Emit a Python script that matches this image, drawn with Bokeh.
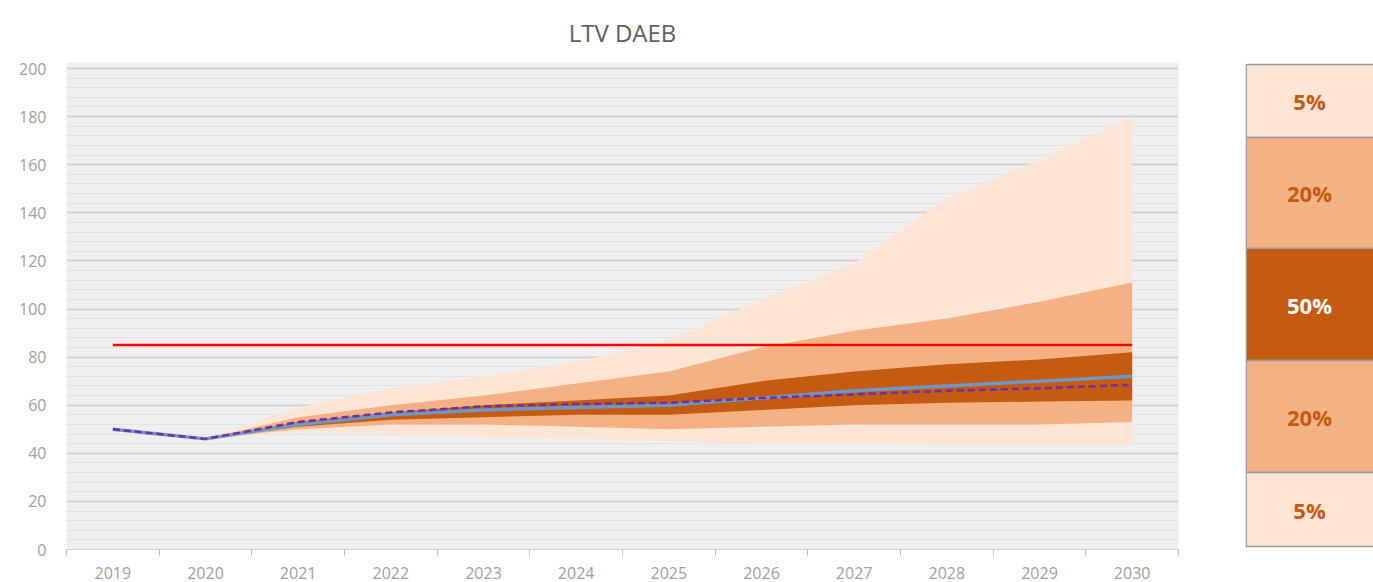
from bokeh.plotting import figure
from bokeh.layouts import row
from bokeh.models import Range1d, FixedTicker, SingleIntervalTicker, ColumnDataSource
from bokeh.embed import file_html
from bokeh.resources import INLINE
from bokeh.core.properties import value

# ---------------- data ----------------
years = [2019, 2020, 2021, 2022, 2023, 2024, 2025, 2026, 2027, 2028, 2029, 2030]
central = [50, 46, 52, 56, 58, 59, 60, 63, 66, 68, 70, 72]
scenario = [50, 46, 53, 57, 59.5, 60.5, 61, 63, 64.5, 66, 67, 68.5]

fan_years = [2020, 2021, 2022, 2023, 2024, 2025, 2026, 2027, 2028, 2029, 2030]
p95 = [46, 59, 67, 72, 78, 87, 104, 119, 146, 162, 180]
p90 = [46, 55, 60, 64, 69, 74, 84, 91, 96, 103, 111]
p75 = [46, 53, 57, 60, 62, 64, 70, 74, 77, 79, 82]
p25 = [46, 51, 54, 55, 56, 56, 58, 60, 61, 61.5, 62]
p10 = [46, 50, 52, 52, 51, 50, 51, 52, 52, 52, 53]
p05 = [46, 49, 48, 47, 46, 45, 44, 44, 43.5, 43.5, 43.5]

limit_value = 85

legend_labels = ["5%", "20%", "50%", "20%", "5%"]

# ---------------- styles / layout ----------------
c_outer = "#fde5d6"
c_mid = "#f4b183"
c_inner = "#c55a11"
legend_fill = [c_outer, c_mid, c_inner, c_mid, c_outer]
legend_text_col = [c_inner, c_inner, "#ffffff", c_inner, c_inner]
# legend box edges in screen pixels (top -> bottom)
legend_edges = [64, 137, 248, 360, 472, 546]

FONT = "Open Sans"
TOTAL_H = 582
FRAME_TOP = 62
FRAME_BOTTOM = 549
Y_TOP_PX = 68   # pixel where value 200 sits
y_end = 200 * (FRAME_BOTTOM - FRAME_TOP) / (FRAME_BOTTOM - Y_TOP_PX)

p = figure(width=1245, height=TOTAL_H, output_backend="svg", toolbar_location=None,
           x_range=Range1d(2018.5, 2030.5), y_range=Range1d(0, y_end),
           min_border_left=66, min_border_right=67, min_border_top=FRAME_TOP,
           min_border_bottom=TOTAL_H - FRAME_BOTTOM)

p.title.text = "LTV DAEB"
p.title.align = "center"
p.title.text_font = FONT
p.title.text_font_size = "24px"
p.title.text_font_style = "normal"
p.title.text_color = "#5f5f5f"
p.title.standoff = 27

p.background_fill_color = "#efefef"
p.border_fill_color = "#ffffff"
p.outline_line_color = None

# grid
p.xgrid.grid_line_color = None
p.yaxis.ticker = SingleIntervalTicker(interval=20, num_minor_ticks=5)
p.ygrid.ticker = SingleIntervalTicker(interval=20, num_minor_ticks=5)
p.ygrid.grid_line_color = "#d2d2d2"
p.ygrid.grid_line_width = 2
p.ygrid.minor_grid_line_color = "#e3e3e3"
p.ygrid.minor_grid_line_width = 1

# y axis
p.yaxis.axis_line_color = None
p.yaxis.major_tick_line_color = None
p.yaxis.minor_tick_line_color = None
p.yaxis.major_label_text_color = "#a0a0a0"
p.yaxis.major_label_text_font = FONT
p.yaxis.major_label_text_font_size = "16px"
p.yaxis.major_label_standoff = 14

# x axis
p.xaxis.ticker = FixedTicker(ticks=years, minor_ticks=[y - 0.5 for y in years] + [years[-1] + 0.5])
p.xaxis.axis_line_color = "#cfcfcf"
p.xaxis.axis_line_width = 1
p.xaxis.major_tick_line_color = None
p.xaxis.minor_tick_line_color = "#bdbdbd"
p.xaxis.minor_tick_out = 6
p.xaxis.minor_tick_in = 0
p.xaxis.major_label_text_color = "#a0a0a0"
p.xaxis.major_label_text_font = FONT
p.xaxis.major_label_text_font_size = "16px"
p.xaxis.major_label_standoff = 11

# fan bands
fan = ColumnDataSource(dict(x=fan_years, p95=p95, p90=p90, p75=p75, p25=p25, p10=p10, p05=p05))
p.varea(x="x", y1="p05", y2="p95", source=fan, fill_color=c_outer, fill_alpha=1)
p.varea(x="x", y1="p10", y2="p90", source=fan, fill_color=c_mid, fill_alpha=1)
p.varea(x="x", y1="p25", y2="p75", source=fan, fill_color=c_inner, fill_alpha=1)

# limit line
p.line(x=[years[0], years[-1]], y=[limit_value, limit_value], line_color="#ff0000", line_width=2.5)

# central and scenario
p.line(x=years, y=central, line_color="#6f97c6", line_width=3.5)
p.line(x=years, y=scenario, line_color="#7030a0", line_width=2.5, line_dash="7 4")

# ---------------- legend figure ----------------
# frames in a row are aligned, so the legend frame spans FRAME_TOP..FRAME_BOTTOM;
# its y range is expressed in screen pixels.
lg = figure(width=128, height=TOTAL_H, output_backend="svg", toolbar_location=None,
            x_range=Range1d(0, 1), y_range=Range1d(FRAME_BOTTOM, FRAME_TOP),
            min_border_left=0, min_border_right=0, min_border_top=FRAME_TOP,
            min_border_bottom=TOTAL_H - FRAME_BOTTOM)
lg.axis.visible = False
lg.grid.grid_line_color = None
lg.outline_line_color = None
lg.background_fill_color = "#ffffff"
lg.border_fill_color = "#ffffff"

tops = legend_edges[:-1]
bots = legend_edges[1:]
src = ColumnDataSource(dict(top=tops, bottom=bots, fill=legend_fill, tc=legend_text_col,
                            lab=legend_labels, ym=[(a + b) / 2 for a, b in zip(tops, bots)],
                            xm=[0.5] * len(tops)))
lg.quad(left=0.005, right=1.05, top="top", bottom="bottom", source=src, fill_color="fill",
        line_color="#9b9b9b", line_width=1.5)
lg.text(x="xm", y="ym", text="lab", source=src, text_color="tc", text_align="center",
        text_baseline="middle", text_font=value("Open Sans"), text_font_size="22px",
        text_font_style="bold")

layout = row(p, lg)
open("out.html", "w").write(file_html(layout, INLINE))
